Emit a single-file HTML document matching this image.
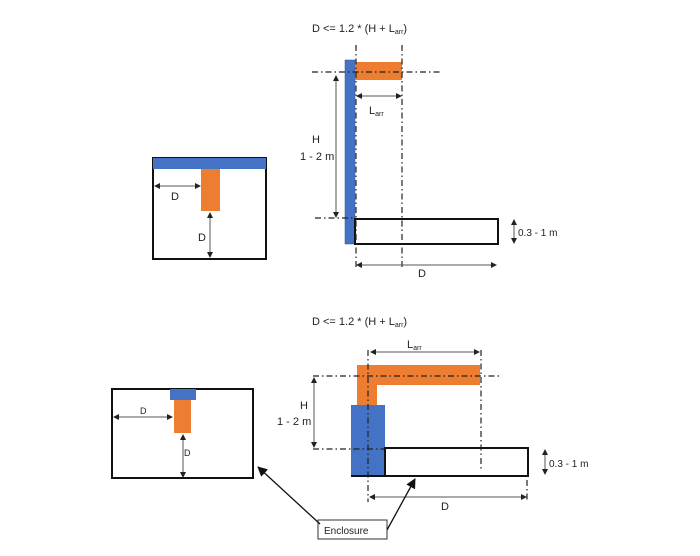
<!DOCTYPE html>
<html><head><meta charset="utf-8"><style>
html,body{margin:0;padding:0;background:#fff;}
svg{display:block;}
text{font-family:"Liberation Sans",sans-serif;fill:#222;}
</style></head><body>
<svg width="700" height="556" viewBox="0 0 700 556">
<defs>
<marker id="a" markerWidth="6" markerHeight="6" refX="5" refY="3" orient="auto-start-reverse" markerUnits="userSpaceOnUse"><path d="M0,0 L6,3 L0,6 z" fill="#222"/></marker>
<marker id="b" markerWidth="10" markerHeight="10" refX="9" refY="5" orient="auto" markerUnits="userSpaceOnUse"><path d="M0,0 L10,5 L0,10 z" fill="#111"/></marker>
</defs>
<!-- TOP -->
<text x="312" y="32" font-size="11">D &lt;= 1.2 * (H + L<tspan font-size="7" dy="2">arr</tspan><tspan dy="-2">)</tspan></text>
<rect x="345" y="60" width="10" height="184" fill="#4472C4" stroke="#2f5597" stroke-width="0.5"/>
<rect x="355" y="62" width="47" height="18" fill="#ED7D31"/>
<rect x="355" y="219" width="143" height="25" fill="none" stroke="#111" stroke-width="2"/>
<g stroke="#222" stroke-width="1.2" stroke-dasharray="6,3,1.5,3" fill="none">
<line x1="312" y1="72" x2="442" y2="72"/>
<line x1="315" y1="218" x2="355" y2="218"/>
<line x1="356" y1="45" x2="356" y2="268"/>
<line x1="402" y1="45" x2="402" y2="268"/>
</g>
<g stroke="#555" stroke-width="1" fill="none">
<line x1="336" y1="76" x2="336" y2="217" marker-start="url(#a)" marker-end="url(#a)"/>
<line x1="357" y1="96" x2="401" y2="96" marker-start="url(#a)" marker-end="url(#a)"/>
<line x1="357" y1="265" x2="496" y2="265" marker-start="url(#a)" marker-end="url(#a)"/>
<line x1="514" y1="220" x2="514" y2="243" marker-start="url(#a)" marker-end="url(#a)"/>
</g>
<text x="312" y="143" font-size="11">H</text>
<text x="300" y="160" font-size="11">1 - 2 m</text>
<text x="369" y="114" font-size="11">L<tspan font-size="7" dy="2">arr</tspan></text>
<text x="418" y="277" font-size="11">D</text>
<text x="518" y="236" font-size="10">0.3 - 1 m</text>
<!-- top-left box -->
<rect x="153" y="158" width="113" height="101" fill="none" stroke="#111" stroke-width="2"/>
<rect x="153" y="158" width="113" height="11" fill="#4472C4"/>
<rect x="201" y="169" width="19" height="42" fill="#ED7D31"/>
<g stroke="#555" stroke-width="1" fill="none">
<line x1="155" y1="186" x2="200" y2="186" marker-start="url(#a)" marker-end="url(#a)"/>
<line x1="210" y1="213" x2="210" y2="257" marker-start="url(#a)" marker-end="url(#a)"/>
</g>
<text x="171" y="200" font-size="11">D</text>
<text x="198" y="241" font-size="11">D</text>
<!-- BOTTOM -->
<text x="312" y="325" font-size="11">D &lt;= 1.2 * (H + L<tspan font-size="7" dy="2">arr</tspan><tspan dy="-2">)</tspan></text>
<path d="M357,365 H480 V385 H377 V406 H357 Z" fill="#ED7D31"/>
<rect x="351" y="405" width="34" height="71" fill="#4472C4"/>
<rect x="385" y="448" width="143" height="28" fill="none" stroke="#111" stroke-width="2"/>
<line x1="351" y1="476" x2="385" y2="476" stroke="#111" stroke-width="2"/>
<g stroke="#222" stroke-width="1.2" stroke-dasharray="6,3,1.5,3" fill="none">
<line x1="313" y1="376" x2="502" y2="376"/>
<line x1="313" y1="449" x2="385" y2="449"/>
<line x1="368" y1="350" x2="368" y2="502"/>
<line x1="481" y1="350" x2="481" y2="470"/>
<line x1="527" y1="480" x2="527" y2="502"/>
</g>
<g stroke="#555" stroke-width="1" fill="none">
<line x1="314" y1="378" x2="314" y2="447" marker-start="url(#a)" marker-end="url(#a)"/>
<line x1="371" y1="352" x2="479" y2="352" marker-start="url(#a)" marker-end="url(#a)"/>
<line x1="370" y1="497" x2="526" y2="497" marker-start="url(#a)" marker-end="url(#a)"/>
<line x1="545" y1="450" x2="545" y2="474" marker-start="url(#a)" marker-end="url(#a)"/>
</g>
<text x="300" y="409" font-size="11">H</text>
<text x="277" y="425" font-size="11">1 - 2 m</text>
<text x="407" y="348" font-size="11">L<tspan font-size="7" dy="2">arr</tspan></text>
<text x="441" y="510" font-size="11">D</text>
<text x="549" y="467" font-size="10">0.3 - 1 m</text>
<!-- bottom-left box -->
<rect x="112" y="389" width="141" height="89" fill="none" stroke="#111" stroke-width="2"/>
<rect x="170" y="389" width="26" height="11" fill="#4472C4"/>
<rect x="174" y="400" width="17" height="33" fill="#ED7D31"/>
<g stroke="#555" stroke-width="1" fill="none">
<line x1="114" y1="417" x2="172" y2="417" marker-start="url(#a)" marker-end="url(#a)"/>
<line x1="183" y1="435" x2="183" y2="477" marker-start="url(#a)" marker-end="url(#a)"/>
</g>
<text x="140" y="414" font-size="9">D</text>
<text x="184" y="456" font-size="9">D</text>
<!-- Enclosure -->
<rect x="318" y="520" width="69" height="19" fill="#fff" stroke="#333" stroke-width="1"/>
<text x="324" y="534" font-size="10">Enclosure</text>
<g stroke="#111" stroke-width="1.3" fill="none">
<line x1="320" y1="524" x2="258" y2="467" marker-end="url(#b)"/>
<line x1="387" y1="530" x2="415" y2="479" marker-end="url(#b)"/>
</g>
</svg>
</body></html>
